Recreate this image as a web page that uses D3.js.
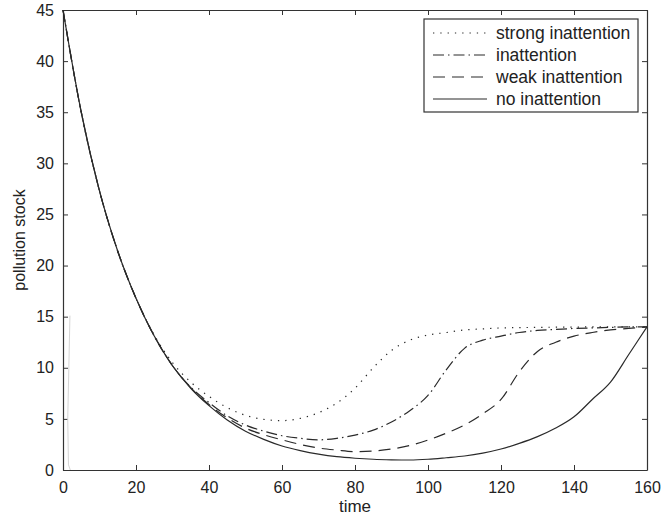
<!DOCTYPE html>
<html>
<head>
<meta charset="utf-8">
<script src="https://cdn.jsdelivr.net/npm/d3@7"></script>
<style>
body { margin: 0; background: #fff; }
text { font-family: "Liberation Sans", Arial, sans-serif; fill: #222; }
</style>
</head>
<body>
<div id="chart-area"></div>
<script>
// data
var time = [0,5,10,15,20,25,30,35,40,45,50,55,60,65,70,75,80,85,90,95,100,105,110,115,120,125,130,135,140,145,150,155,160];
var strongInattention = [45,35.0,27.3,21.4,16.8,13.2,10.5,8.6,7.2,6.1,5.35,4.95,4.83,5.05,5.6,6.55,8.0,10.0,11.7,12.7,13.2,13.45,13.7,13.8,13.9,13.93,13.95,13.97,13.98,14,14,14,14];
var inattention = [45,35.0,27.3,21.4,16.8,13.1,10.2,8.1,6.6,5.3,4.4,3.8,3.35,3.1,2.95,3.1,3.42,3.9,4.7,5.8,7.3,9.8,11.9,12.7,13.1,13.45,13.65,13.75,13.85,13.9,13.95,14,14];
var weakInattention = [45,35.0,27.3,21.4,16.8,13.1,10.2,8.05,6.4,5.1,4.1,3.45,2.95,2.5,2.15,1.95,1.8,1.85,2.05,2.4,2.93,3.6,4.4,5.5,6.9,9.6,11.6,12.5,13.1,13.45,13.7,13.85,14];
var noInattention = [45,35.0,27.3,21.4,16.8,13.1,10.2,8.0,6.3,4.9,3.8,3.0,2.35,1.9,1.55,1.3,1.15,1.05,1.0,0.98,1.05,1.2,1.37,1.65,2.05,2.6,3.26,4.1,5.2,6.9,8.6,11.3,14.0];
// faint grey trace near t=0
var traceTime = [1.9, 1.6, 1.3, 1.5, 2.0];
var traceValue = [15.1, 10, 5, 0.5, 0];

var seriesNames = ["strong inattention", "inattention", "weak inattention", "no inattention"];
var seriesValues = [strongInattention, inattention, weakInattention, noInattention];
var dashes = ["1.3,6", "11,4,1.5,4", "12,7", null];
var xTicks = [0,20,40,60,80,100,120,140,160];
var yTicks = [0,5,10,15,20,25,30,35,40,45];

var margin = {top: 10, right: 14, bottom: 48, left: 63};
var width = 661 - margin.left - margin.right;
var height = 518 - margin.top - margin.bottom;

var svg = d3.select("#chart-area")
    .append("svg")
    .attr("width", 661)
    .attr("height", 518);

var g = svg.append("g")
    .attr("transform", "translate(" + margin.left + ", " + margin.top + ")");

var x = d3.scaleLinear().domain([0, 160]).range([0, width]);
var y = d3.scaleLinear().domain([0, 45]).range([height, 0]);

// axes, ticks pointing inward on all four sides
var tickLen = 5;
g.append("g")
    .attr("transform", "translate(0, " + height + ")")
    .call(d3.axisBottom(x).tickValues(xTicks).tickSizeInner(-tickLen).tickSizeOuter(0).tickPadding(12));
g.append("g")
    .call(d3.axisTop(x).tickValues(xTicks).tickSizeInner(-tickLen).tickSizeOuter(0).tickFormat(""));
g.append("g")
    .call(d3.axisLeft(y).tickValues(yTicks).tickSizeInner(-tickLen).tickSizeOuter(0).tickPadding(9));
g.append("g")
    .attr("transform", "translate(" + width + ", 0)")
    .call(d3.axisRight(y).tickValues(yTicks).tickSizeInner(-tickLen).tickSizeOuter(0).tickFormat(""));

g.selectAll(".domain").attr("stroke", "#333").attr("stroke-width", 1.2);
g.selectAll(".tick line").attr("stroke", "#333");
g.selectAll(".tick text")
    .attr("font-size", "16px")
    .style("font-family", "'Liberation Sans', Arial, sans-serif")
    .style("fill", "#222");

// axis labels
g.append("text")
    .attr("x", -(height / 2))
    .attr("y", -38)
    .attr("font-size", "16px")
    .attr("text-anchor", "middle")
    .attr("transform", "rotate(-90)")
    .text("pollution stock");
g.append("text")
    .attr("x", width / 2)
    .attr("y", height + 42)
    .attr("font-size", "17px")
    .attr("text-anchor", "middle")
    .text("time");

var line = d3.line()
    .x(function(d) { return x(d[0]); })
    .y(function(d) { return y(d[1]); })
    .curve(d3.curveMonotoneX);

g.append("path")
    .datum(d3.zip(traceTime, traceValue))
    .attr("fill", "none")
    .attr("stroke", "#d4d4d4")
    .attr("stroke-width", 1)
    .attr("d", d3.line().x(function(d) { return x(d[0]); }).y(function(d) { return y(d[1]); }));

seriesValues.forEach(function(vals, i) {
    g.append("path")
        .datum(d3.zip(time, vals))
        .attr("fill", "none")
        .attr("stroke", "#2a2a2a")
        .attr("stroke-width", 1.2)
        .attr("stroke-dasharray", dashes[i])
        .attr("d", line);
});

// legend
var legend = svg.append("g").attr("transform", "translate(424, 19)");
legend.append("rect")
    .attr("width", 214)
    .attr("height", 93)
    .attr("fill", "#fff")
    .attr("stroke", "#333")
    .attr("stroke-width", 1.2);
seriesNames.forEach(function(name, i) {
    var yy = 14 + i * 22;
    legend.append("line")
        .attr("x1", 9).attr("x2", 63)
        .attr("y1", yy).attr("y2", yy)
        .attr("stroke", "#2a2a2a")
        .attr("stroke-width", 1.2)
        .attr("stroke-dasharray", dashes[i]);
    legend.append("text")
        .attr("x", 72)
        .attr("y", yy + 6)
        .attr("font-size", "17.5px")
        .text(name);
});
</script>
</body>
</html>
